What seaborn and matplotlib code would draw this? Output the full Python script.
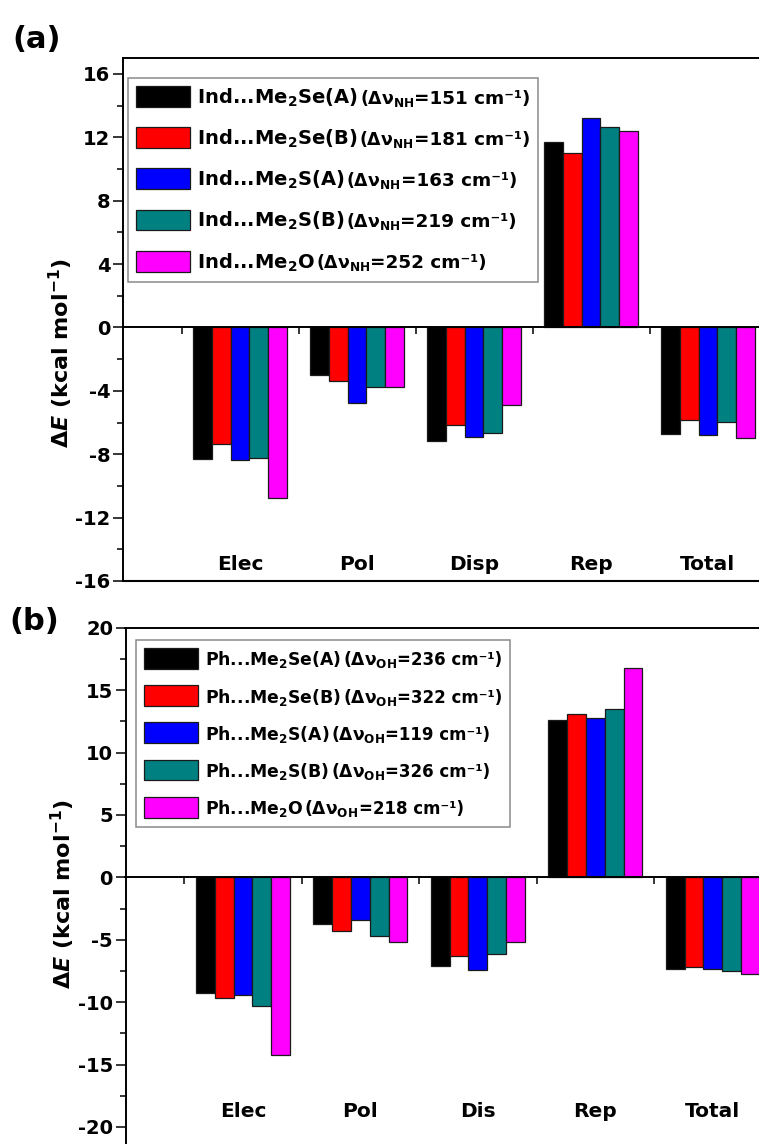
import matplotlib
matplotlib.use("Agg")
import matplotlib.pyplot as plt
from matplotlib.ticker import MultipleLocator
from matplotlib.offsetbox import (AnchoredOffsetbox, DrawingArea, HPacker,
                                  TextArea, VPacker)
from matplotlib.patches import Rectangle
import numpy as np
import pandas as pd
import seaborn as sns

# ---------------------------------------------------------------- data
components_a = ["Elec", "Pol", "Disp", "Rep", "Total"]
components_b = ["Elec", "Pol", "Dis", "Rep", "Total"]

# (a) indole complexes, kcal/mol
ind_me2se_a = [-8.28, -2.99, -7.18, 11.69, -6.74]
ind_me2se_b = [-7.33, -3.37, -6.17, 11.00, -5.81]
ind_me2s_a = [-8.36, -4.80, -6.90, 13.23, -6.80]
ind_me2s_b = [-8.21, -3.79, -6.67, 12.62, -5.98]
ind_me2o = [-10.74, -3.79, -4.90, 12.40, -6.95]

# (b) phenol complexes, kcal/mol
ph_me2se_a = [-9.27, -3.74, -7.13, 12.63, -7.32]
ph_me2se_b = [-9.70, -4.33, -6.33, 13.08, -7.21]
ph_me2s_a = [-9.43, -3.42, -7.40, 12.79, -7.37]
ph_me2s_b = [-10.29, -4.68, -6.15, 13.49, -7.51]
ph_me2o = [-14.26, -5.16, -5.18, 16.77, -7.77]

names_a = ["Ind...Me$_2$Se(A)", "Ind...Me$_2$Se(B)", "Ind...Me$_2$S(A)",
           "Ind...Me$_2$S(B)", "Ind...Me$_2$O"]
names_b = ["Ph...Me$_2$Se(A)", "Ph...Me$_2$Se(B)", "Ph...Me$_2$S(A)",
           "Ph...Me$_2$S(B)", "Ph...Me$_2$O"]
shifts_a = [151, 181, 163, 219, 252]   # Δν_NH, cm-1
shifts_b = [236, 322, 119, 326, 218]   # Δν_OH, cm-1

colors = ["#000000", "#FF0000", "#0000FF", "#008080", "#FF00FF"]

# ---------------------------------------------------------------- style
sns.set_style("ticks")
plt.rcParams.update({
    "font.family": ["DejaVu Sans"],
    "font.weight": "bold",
    "text.color": "black",
    "axes.labelcolor": "black",
    "xtick.color": "black",
    "ytick.color": "black",
    "axes.unicode_minus": False,
    "mathtext.fontset": "custom",
    "mathtext.rm": "DejaVu Sans:bold",
    "mathtext.bf": "DejaVu Sans:bold",
    "mathtext.it": "DejaVu Sans:bold:italic",
    "mathtext.default": "regular",
})

W, H = 759, 1144
fig = plt.figure(figsize=(W / 100, H / 100), dpi=100)


def long_table(components, names, series):
    rows = []
    for name, vals in zip(names, series):
        for comp, v in zip(components, vals):
            rows.append({"component": comp, "complex": name, "dE": v})
    return pd.DataFrame(rows)


def energy_panel(ax, components, names, series, ylim, major, minor,
                 cat_y, ylabel_y):
    df = long_table(components, names, series)
    sns.barplot(data=df, x="component", y="dE", hue="complex",
                order=components, hue_order=names, palette=colors,
                saturation=1, width=0.8, gap=0, edgecolor="#1a1a1a",
                linewidth=0.9, legend=False, ax=ax, zorder=2)
    ax.set_xlim(-1, 4.5)
    ax.set_ylim(*ylim)

    # x axis sits on the zero line with ticks between the groups
    ax.spines["bottom"].set_position(("data", 0))
    ax.set_xticks(np.arange(len(components)) - 0.5)
    ax.set_xticklabels([])
    ax.tick_params(axis="x", direction="out", length=5, width=1.1,
                   bottom=True, top=False)
    ax.axhline(ylim[0], color="black", lw=1.5, clip_on=False, zorder=3)
    for s in ax.spines.values():
        s.set_linewidth(1.4)
        s.set_color("black")
        s.set_visible(True)

    ax.yaxis.set_major_locator(MultipleLocator(major))
    ax.yaxis.set_minor_locator(MultipleLocator(minor))
    ax.tick_params(axis="y", which="major", direction="out", length=7,
                   width=1.1, labelsize=14, pad=2, left=True, right=False)
    ax.tick_params(axis="y", which="minor", direction="out", length=4,
                   width=1.1, left=True, right=False)
    for lab in ax.get_yticklabels():
        lab.set_fontweight("bold")

    ax.set_xlabel("")
    ax.set_ylabel(r"$\mathit{ΔE}$ (kcal mol$^{-1}$)", fontsize=16,
                  fontweight="bold")
    ax.yaxis.set_label_coords(-0.075, ylabel_y)

    for i, comp in enumerate(components):
        ax.text(i, cat_y, comp, ha="center", va="center", fontsize=14.5,
                fontweight="bold", zorder=4)


def shift_legend(ax, names, shifts, mode, anchor, sizes, row_sep):
    s1, s2, s3 = sizes
    rows = []
    for name, shift, col in zip(names, shifts, colors):
        da = DrawingArea(39, 15, 0, 2.4)
        da.add_artist(Rectangle((0, -2.4), 39, 15, facecolor=col,
                                edgecolor="#1a1a1a", linewidth=0.9))
        label = HPacker(children=[
            TextArea(name + " ", textprops=dict(fontsize=s1, fontweight="bold")),
            TextArea("(Δν$_{" + mode + "}$",
                     textprops=dict(fontsize=s2, fontweight="bold")),
            TextArea("=%d cm⁻¹)" % shift,
                     textprops=dict(fontsize=s3, fontweight="bold"))],
            align="baseline", pad=0, sep=0)
        rows.append(HPacker(children=[da, label], align="baseline",
                            pad=0, sep=5))
    vp = VPacker(children=rows, align="left", pad=0, sep=row_sep)
    box = AnchoredOffsetbox(loc="upper left", child=vp, pad=0.42,
                            borderpad=0, frameon=True,
                            bbox_to_anchor=anchor,
                            bbox_transform=ax.transAxes,
                            prop=dict(size=14))
    box.patch.set_edgecolor("#8a8a8a")
    box.patch.set_linewidth(1.1)
    box.set_zorder(5)
    ax.add_artist(box)


# ---------------------------------------------------------------- (a)
ax_a = fig.add_axes([123 / W, (H - 581) / H, 643.5 / W, 523 / H])
energy_panel(ax_a, components_a, names_a,
             [ind_me2se_a, ind_me2se_b, ind_me2s_a, ind_me2s_b, ind_me2o],
             (-16, 17), 4, 2, -14.93, 0.436)
shift_legend(ax_a, names_a, shifts_a, "NH", (5 / 643.5, 1 - 20 / 523),
             (14, 12.5, 13.2), 13.2)

# ---------------------------------------------------------------- (b)
ax_b = fig.add_axes([125.5 / W, (H - 1151.9) / H, 646 / W, 524.2 / H])
energy_panel(ax_b, components_b, names_b,
             [ph_me2se_a, ph_me2se_b, ph_me2s_a, ph_me2s_b, ph_me2o],
             (-22, 20), 5, 2.5, -18.8, 0.492)
shift_legend(ax_b, names_b, shifts_b, "OH", (10.5 / 646, 1 - 12 / 524.2),
             (12.4, 12.3, 12.0), 10.6)

# panel tags
fig.text(37 / W, 1 - 40 / H, "(a)", fontsize=22, fontweight="bold",
         ha="center", va="center")
fig.text(34 / W, 1 - 621 / H, "(b)", fontsize=22, fontweight="bold",
         ha="center", va="center")

fig.savefig("out.png", dpi=100)
